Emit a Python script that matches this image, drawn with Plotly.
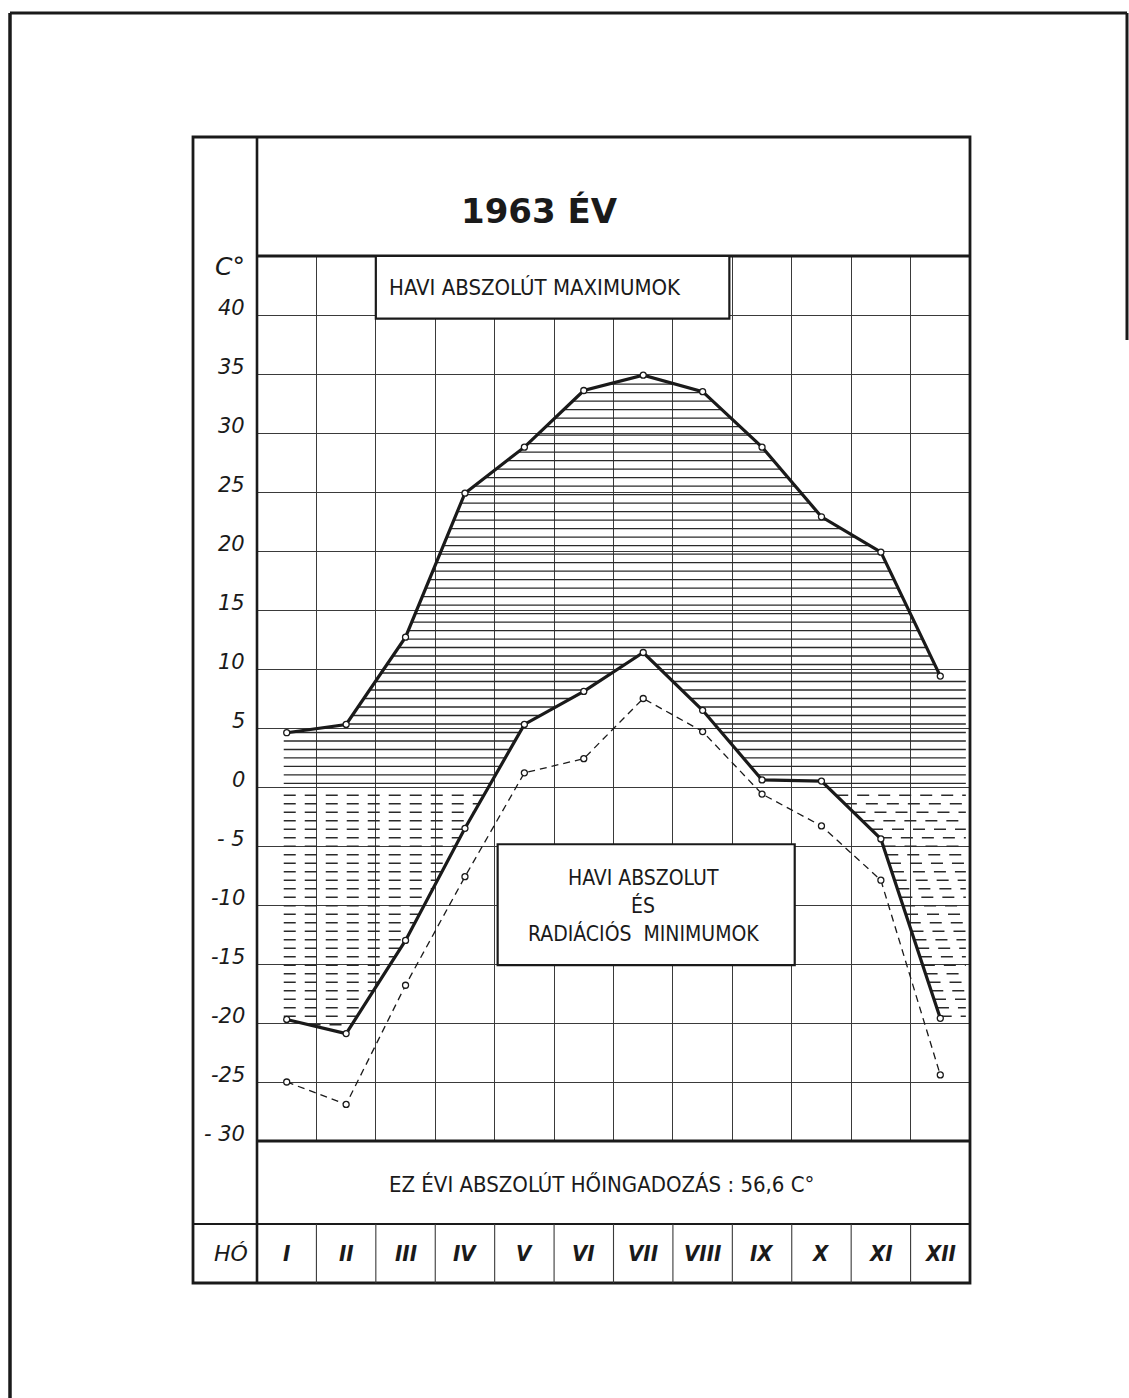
import numpy as np
import plotly.graph_objects as go

# ---------------- data ----------------
months = ["I", "II", "III", "IV", "V", "VI", "VII", "VIII", "IX", "X", "XI", "XII"]
abs_max = [4.6, 5.3, 12.7, 24.9, 28.8, 33.6, 34.9, 33.5, 28.8, 22.9, 19.9, 9.4]
abs_min = [-19.7, -20.9, -13.0, -3.5, 5.3, 8.1, 11.4, 6.5, 0.6, 0.5, -4.4, -19.6]
rad_min = [-25.0, -26.9, -16.8, -7.6, 1.2, 2.4, 7.5, 4.7, -0.6, -3.3, -7.9, -24.4]
y_ticks = [40, 35, 30, 25, 20, 15, 10, 5, 0, -5, -10, -15, -20, -25, -30]
y_tick_text = ["40", "35", "30", "25", "20", "15", "10", "5", "0", "- 5", "-10", "-15", "-20", "-25", "- 30"]
title_text = "1963 ÉV"
max_label = "HAVI ABSZOLÚT MAXIMUMOK"
min_label = ["HAVI ABSZOLUT", "ÉS", "RADIÁCIÓS  MINIMUMOK"]
footer_text = "EZ ÉVI ABSZOLÚT HŐINGADOZÁS : 56,6 C°"
unit_text = "C°"
month_head = "HÓ"

# ---------------- geometry ----------------
W, H = 1129, 1398
L, R, T, B = 257, 970, 256, 1141          # plot area (grid) in pixels
YMIN, YMAX = -30, 45


def px(x):
    return (x - L) / (R - L)


def py(y):
    return (B - y) / (B - T)


INK = "#1a1a1a"
GRID = "#3a3a3a"
NARROW = "Liberation Sans Narrow, DejaVu Sans Condensed, Arial Narrow, sans-serif"
SANS = "DejaVu Sans, Liberation Sans, sans-serif"

xm = np.arange(12) + 0.5

fig = go.Figure()

# ---------------- hatching between max and min curves ----------------
xs = np.linspace(0.45, 11.93, 3000)
hi = np.interp(xs, xm, abs_max)
lo = np.interp(xs, xm, abs_min)


def hatch(levels):
    hx, hy = [], []
    for lev in levels:
        m = (lo <= lev) & (hi >= lev)
        if not m.any():
            continue
        idx = np.where(m)[0]
        breaks = np.where(np.diff(idx) > 1)[0]
        starts = np.r_[idx[0], idx[breaks + 1]]
        ends = np.r_[idx[breaks], idx[-1]]
        for s, e in zip(starts, ends):
            hx += [xs[s], xs[e], None]
            hy += [lev, lev, None]
    return hx, hy


sx, sy = hatch(np.arange(0.3, 35.0, 0.72))
dx, dy = hatch(-np.arange(0.7, 21.5, 0.72))

fig.add_trace(go.Scatter(x=sx, y=sy, mode="lines", line=dict(color="#2a2a2a", width=1.3),
                         hoverinfo="skip", showlegend=False))
fig.add_trace(go.Scatter(x=dx, y=dy, mode="lines",
                         line=dict(color="#2a2a2a", width=1.5, dash="12px,9px"),
                         hoverinfo="skip", showlegend=False))

# ---------------- curves ----------------
mk = dict(symbol="circle", size=6, color="white", line=dict(color=INK, width=1.3))
fig.add_trace(go.Scatter(x=xm, y=rad_min, mode="lines+markers",
                         line=dict(color=INK, width=1.3, dash="7px,5px"), marker=mk,
                         name="radiációs minimum", showlegend=False))
fig.add_trace(go.Scatter(x=xm, y=abs_min, mode="lines+markers",
                         line=dict(color=INK, width=3.2), marker=mk,
                         name="abszolút minimum", showlegend=False))
fig.add_trace(go.Scatter(x=xm, y=abs_max, mode="lines+markers",
                         line=dict(color=INK, width=3.2), marker=mk,
                         name="abszolút maximum", showlegend=False))

# ---------------- frame shapes ----------------
shapes = []


def pline(x0, y0, x1, y1, w=2.0, color=INK):
    shapes.append(dict(type="line", xref="paper", yref="paper",
                       x0=px(x0), y0=py(y0), x1=px(x1), y1=py(y1),
                       line=dict(color=color, width=w), layer="above"))


# outer page border
pline(10, 13, 10, 1398, 3.5)
pline(10, 13, 1127, 13, 3.0)
pline(1127, 13, 1127, 340, 3.0)

# chart box
shapes.append(dict(type="rect", xref="paper", yref="paper",
                   x0=px(193), y0=py(137), x1=px(R), y1=py(1283),
                   line=dict(color=INK, width=2.8), layer="above"))
pline(L, 137, L, 1283, 2.6)         # unit column separator
pline(L, T, R, T, 3.0)              # title row bottom
pline(L, B, R, B, 3.0)              # -30 line
pline(193, 1224, R, 1224, 2.2)      # month row top

# month row column separators
for i in range(1, 12):
    shapes.append(dict(type="line", xref="paper", yref="paper",
                       x0=i / 12, x1=i / 12, y0=py(1224), y1=py(1283),
                       line=dict(color=GRID, width=1.1), layer="above"))

# label boxes (data coordinates, inside grid)
shapes.append(dict(type="rect", xref="x", yref="y", x0=2.0, x1=7.95, y0=39.7, y1=45,
                   fillcolor="white", line=dict(color=INK, width=2.2), layer="above"))
shapes.append(dict(type="rect", xref="x", yref="y", x0=4.05, x1=9.05, y0=-15.1, y1=-4.85,
                   fillcolor="white", line=dict(color=INK, width=2.2), layer="above"))

# ---------------- annotations ----------------
ann = []


def note(text, x, y, xref="paper", yref="paper", size=20, family=NARROW, xanchor="center",
         style="normal", yshift=0):
    ann.append(dict(text=text, xref=xref, yref=yref, x=x, y=y, showarrow=False,
                    xanchor=xanchor, yanchor="middle", yshift=yshift,
                    font=dict(family=family, size=size, color=INK, style=style)))


note("<b>" + title_text + "</b>", px(539), py(211), size=34, family=SANS)
note(max_label, 4.68, 42.3, xref="x", yref="y", size=22)
for txt, yv in zip(min_label, [-7.7, -10.05, -12.45]):
    note(txt, 6.5, yv, xref="x", yref="y", size=21)
note(footer_text, px(601), py(1184), size=22)

for v, t in zip(y_ticks, y_tick_text):
    note(t, px(247), v, yref="y", size=21, family=SANS, xanchor="right", style="italic", yshift=7)
note(unit_text, px(247), py(266), size=25, family=SANS, xanchor="right", style="italic")

for i, m in enumerate(months):
    note("<b>" + m + "</b>", i + 0.5, py(1253), xref="x", size=22, style="italic")
note(month_head, px(231), py(1253), size=22, family=SANS, style="italic")

fig.update_layout(
    width=W, height=H,
    margin=dict(l=L, r=W - R, t=T, b=H - B, pad=0),
    paper_bgcolor="white", plot_bgcolor="white",
    showlegend=False,
    shapes=shapes, annotations=ann,
    xaxis=dict(range=[0, 12], tick0=0, dtick=1, showgrid=True, gridcolor=GRID, gridwidth=1.1,
               showticklabels=False, ticks="", zeroline=False, showline=False, fixedrange=True),
    yaxis=dict(range=[YMIN, YMAX], tick0=0, dtick=5, showgrid=True, gridcolor=GRID, gridwidth=1.1,
               showticklabels=False, ticks="", zeroline=False, showline=False, fixedrange=True),
)

fig.write_html("out.html", config={"displayModeBar": False},
               post_script="document.body.style.margin='0';document.body.style.overflow='hidden';")
